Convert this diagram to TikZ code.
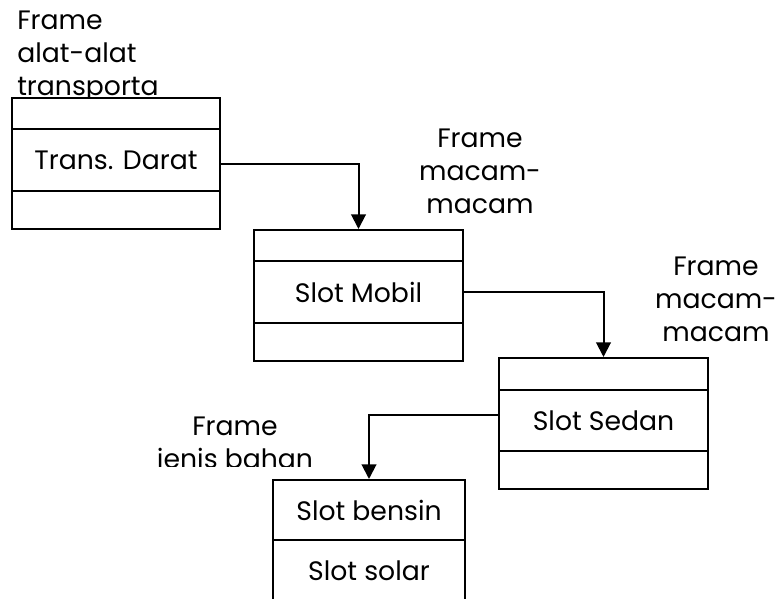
\documentclass[tikz,border=0pt]{standalone}
\usepackage{fontspec}
\setmainfont{Poppins}
\usetikzlibrary{arrows.meta}

\begin{document}
\begin{tikzpicture}[x=0.75pt,y=-0.75pt,font=\fontsize{20}{24.75}\selectfont]
	% Styles
	\tikzstyle{fleche}=[-{Triangle[width=11pt,length=11pt]},line width=1.5pt]
	\tikzstyle{case}=[draw,line width=1.5pt,fill=white,anchor=north west,inner sep=0pt]
	\tikzstyle{etiquette}=[inner sep=0pt,align=center,anchor=north]
	% Dimensions
	\def\Px{0.75pt}
	\def\LargeurA{208*\Px}
	\def\LargeurB{209*\Px}
	\def\LargeurD{192*\Px}
	\useasboundingbox (0,0) rectangle (779,599);
	% Etiquettes
	\node[etiquette,align=left,anchor=north west] (LA) at (17,11) {Frame\\alat-alat\\transporta};
	\node[etiquette] (LB) at (480,129) {Frame\\macam-\\macam};
	\node[etiquette] (LC) at (716,257) {Frame\\macam-\\macam};
	\begin{scope}
		\clip (100,400) rectangle (400,466);
		\node[etiquette] (LD) at (235,417) {Frame\\jenis bahan};
	\end{scope}
	% Cases
	\node[case,minimum width=\LargeurA,minimum height=31*\Px] (A1) at (11,97) {};
	\node[case,minimum width=\LargeurA,minimum height=62*\Px] (A2) at (11,128) {Trans. Darat};
	\node[case,minimum width=\LargeurA,minimum height=38*\Px] (A3) at (11,190) {};
	\node[case,minimum width=\LargeurB,minimum height=31*\Px] (B1) at (253,229) {};
	\node[case,minimum width=\LargeurB,minimum height=62*\Px] (B2) at (253,260) {Slot Mobil};
	\node[case,minimum width=\LargeurB,minimum height=38*\Px] (B3) at (253,322) {};
	\node[case,minimum width=\LargeurB,minimum height=32*\Px] (C1) at (498,357) {};
	\node[case,minimum width=\LargeurB,minimum height=61*\Px] (C2) at (498,389) {Slot Sedan};
	\node[case,minimum width=\LargeurB,minimum height=38*\Px] (C3) at (498,450) {};
	\node[case,minimum width=\LargeurD,minimum height=60*\Px] (D1) at (272,479) {Slot bensin};
	\node[case,minimum width=\LargeurD,minimum height=62*\Px] (D2) at (272,539) {Slot solar};
	% Arcs
	\draw[fleche] ([yshift=-3pt]A2.east) -| (B1.north);
	\draw[fleche] (B2.east) -| (C1.north);
	\draw[fleche] ([yshift=4pt]C2.west) -| (D1.north);
\end{tikzpicture}
\end{document}
